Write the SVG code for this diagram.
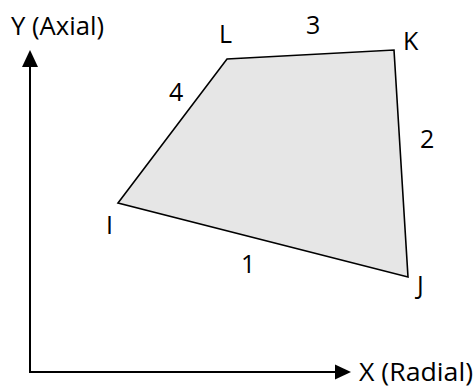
<svg xmlns="http://www.w3.org/2000/svg" width="476" height="388" viewBox="0 0 476 388">
<defs>
<style>
text{font-family:"Open Sans","Liberation Sans",Arial,sans-serif;font-size:25px;fill:#000}
.ax{fill:none;stroke:#000;stroke-width:2}
.el{fill:#e6e6e6;stroke:#000;stroke-width:1.6;stroke-linejoin:miter}
</style>
</defs>
<g id="axes">
<polyline class="ax" points="30,66 30,372 336,372"/>
<polygon points="30,50 22,67 38,67" fill="#000"/>
<polygon points="351,372 335,364.5 335,379.5" fill="#000"/>
<text x="11" y="35" font-size="25.5" textLength="93" lengthAdjust="spacingAndGlyphs">Y (Axial)</text>
<text x="359" y="381" font-size="26.5" textLength="114" lengthAdjust="spacingAndGlyphs">X (Radial)</text>
</g>
<g id="element">
<polygon class="el" points="118,203 227,59 394,50 408,277"/>
</g>
<g id="labels">
<text x="219" y="43">L</text>
<text x="403" y="50">K</text>
<text x="417" y="294">J</text>
<text x="106" y="234">I</text>
<text x="241" y="273">1</text>
<text x="420" y="148">2</text>
<text x="306" y="34">3</text>
<text x="169" y="101">4</text>
</g>
</svg>
